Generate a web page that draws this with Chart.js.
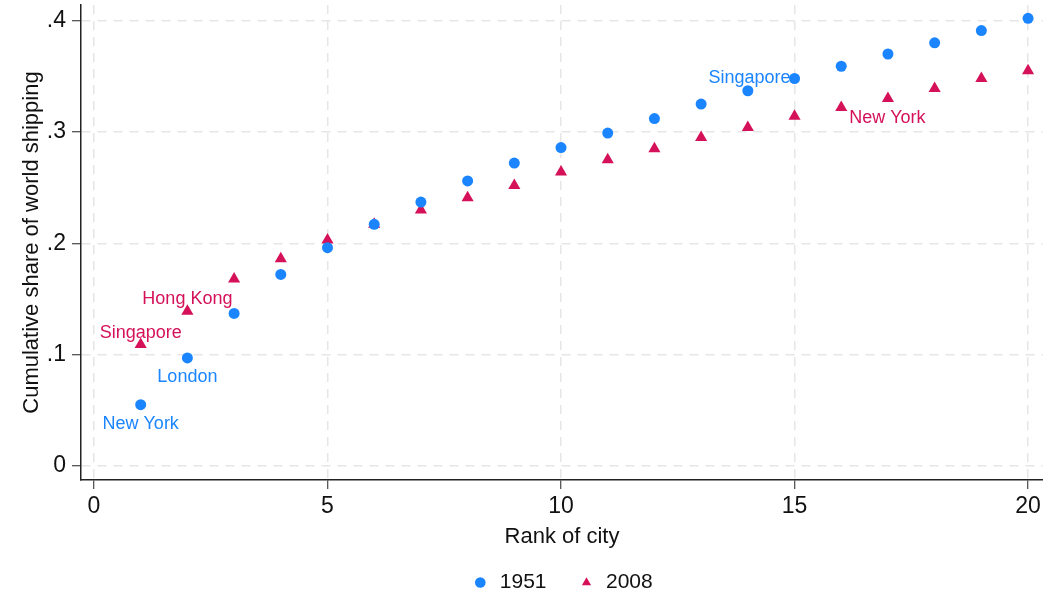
<!DOCTYPE html>
<html>
<head>
<meta charset="utf-8">
<script src="https://cdn.jsdelivr.net/npm/chart.js@4"></script>
<style>
  html, body { margin: 0; padding: 0; background: #fff; overflow: hidden; }
  #wrap { width: 1043px; height: 594px; }
  canvas { display: block; }
</style>
</head>
<body>
<div id="wrap"><canvas id="shipping"></canvas></div>
<script>
// data
const ranks = [1, 2, 3, 4, 5, 6, 7, 8, 9, 10, 11, 12, 13, 14, 15, 16, 17, 18, 19, 20];
const share1951 = [0.055, 0.097, 0.137, 0.172, 0.196, 0.217, 0.237, 0.256, 0.272, 0.286,
                   0.299, 0.312, 0.325, 0.337, 0.348, 0.359, 0.370, 0.380, 0.391, 0.402];
const share2008 = [0.109, 0.139, 0.168, 0.186, 0.203, 0.217, 0.230, 0.241, 0.252, 0.264,
                   0.275, 0.285, 0.295, 0.304, 0.314, 0.322, 0.330, 0.339, 0.348, 0.355];
const xTicks = [0, 5, 10, 15, 20];
const yTicks = [0, 0.1, 0.2, 0.3, 0.4];

// city labels: dataset index, point index, text, where to put it
const cityLabels = [
  [0, 0, 'New York', 'below'],
  [0, 1, 'London', 'below'],
  [0, 14, 'Singapore', 'left'],
  [1, 0, 'Singapore', 'above'],
  [1, 1, 'Hong Kong', 'above'],
  [1, 15, 'New York', 'belowright']
];

const blue = '#1a85ff';
const red = '#d41159';
const font = 'Arial, "Liberation Sans", sans-serif';

const toPoints = vals => ranks.map((r, i) => ({ x: r, y: vals[i] }));

const labelPlugin = {
  id: 'cityLabels',
  afterDatasetsDraw(chart) {
    const ctx = chart.ctx;
    const xs = chart.scales.x, ys = chart.scales.y;
    ctx.save();
    ctx.font = '18px ' + font;
    cityLabels.forEach(([ds, idx, text, pos]) => {
      const px = xs.getPixelForValue(ranks[idx]);
      const vals = ds === 0 ? share1951 : share2008;
      const py = ys.getPixelForValue(vals[idx]);
      ctx.fillStyle = ds === 0 ? blue : red;
      ctx.textBaseline = 'middle';
      if (pos === 'below') {
        ctx.textAlign = 'center';
        ctx.fillText(text, px, py + 19);
      } else if (pos === 'above') {
        ctx.textAlign = 'center';
        ctx.fillText(text, px, py - 12);
      } else if (pos === 'left') {
        ctx.textAlign = 'right';
        ctx.fillText(text, px - 4, py);
      } else {
        ctx.textAlign = 'left';
        ctx.fillText(text, px + 8, py + 11);
      }
    });
    ctx.restore();
  }
};

const gridOpts = { color: '#e6e6e6', lineWidth: 1.5, tickColor: '#222', tickLength: 9, tickWidth: 1 };
const borderOpts = { color: '#222', width: 1.5, dash: [9, 7] };

new Chart(document.getElementById('shipping'), {
  type: 'scatter',
  data: {
    datasets: [
      {
        label: '1951',
        data: toPoints(share1951),
        pointStyle: 'circle',
        pointRadius: 5.5,
        backgroundColor: blue,
        borderColor: blue,
        borderWidth: 0
      },
      {
        label: '2008',
        data: toPoints(share2008),
        pointStyle: 'triangle',
        pointRadius: 7,
        backgroundColor: red,
        borderColor: red,
        borderWidth: 0
      }
    ]
  },
  options: {
    responsive: true,
    maintainAspectRatio: false,
    animation: false,
    layout: { autoPadding: false, padding: { left: 0, right: 0, top: 5, bottom: -9 } },
    plugins: {
      tooltip: { enabled: false },
      legend: {
        position: 'bottom',
        fullSize: false,
        labels: {
          usePointStyle: true,
          boxWidth: 18,
          boxHeight: 7.5,
          padding: 31,
          color: '#111',
          font: { family: font, size: 21 }
        }
      }
    },
    scales: {
      x: {
        type: 'linear',
        min: -0.278,
        max: 20.32,
        afterBuildTicks: axis => { axis.ticks = xTicks.map(v => ({ value: v })); },
        afterFit: axis => { axis.paddingLeft = 0; axis.paddingRight = 0; },
        ticks: { color: '#111', font: { family: font, size: 23 }, padding: 4 },
        grid: gridOpts,
        border: borderOpts,
        title: { display: true, text: 'Rank of city', color: '#111', font: { family: font, size: 22 }, padding: { top: -1, bottom: -9 } }
      },
      y: {
        type: 'linear',
        min: -0.0126,
        max: 0.414,
        afterBuildTicks: axis => { axis.ticks = yTicks.map(v => ({ value: v })); },
        afterFit: axis => { axis.width = 81; axis.paddingTop = 0; axis.paddingBottom = 0; },
        ticks: {
          color: '#111',
          font: { family: font, size: 23 },
          padding: 6,
          callback: v => v === 0 ? '0' : String(Math.round(v * 10) / 10).replace(/^0/, '')
        },
        grid: gridOpts,
        border: borderOpts,
        title: { display: true, text: 'Cumulative share of world shipping', color: '#111', font: { family: font, size: 22 }, padding: { top: 19, bottom: 0 } }
      }
    }
  },
  plugins: [labelPlugin]
});
</script>
</body>
</html>
